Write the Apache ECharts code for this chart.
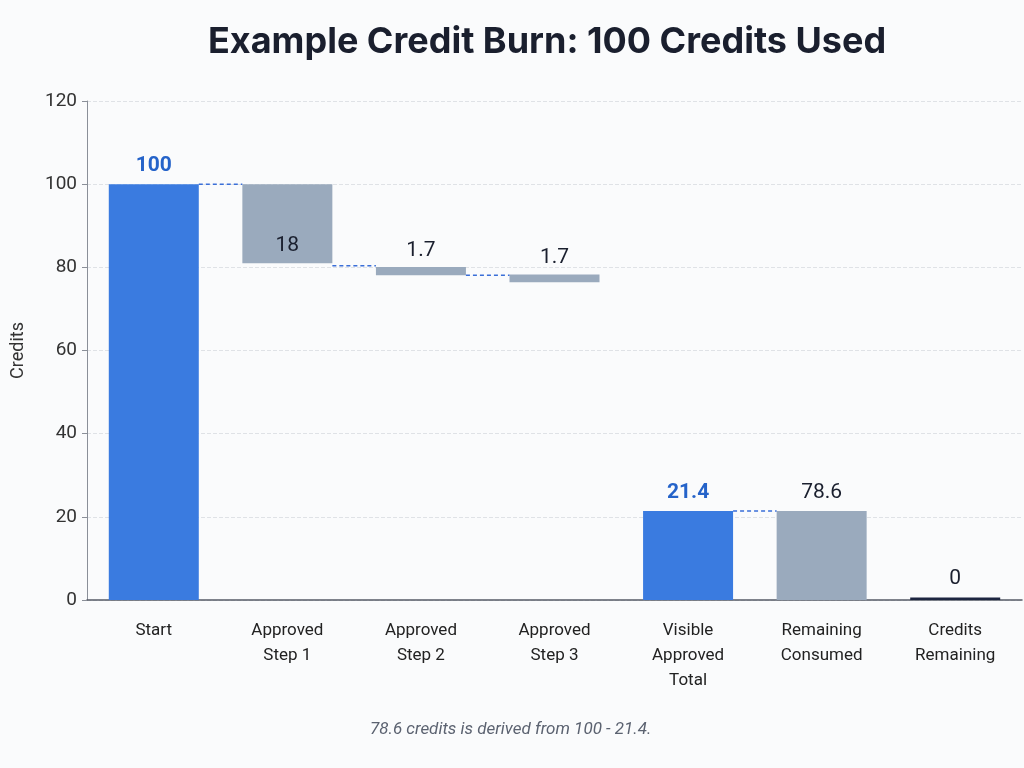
<!DOCTYPE html>
<html>
<head>
<meta charset="utf-8">
<script src="https://cdn.jsdelivr.net/npm/echarts@6/dist/echarts.min.js"></script>
<style>
html, body { margin: 0; padding: 0; background: #fafbfc; }
#main { width: 1024px; height: 768px; }
</style>
</head>
<body>
<div id="main"></div>
<script>
// waterfall data
var categories = ['Start', 'Approved\nStep 1', 'Approved\nStep 2', 'Approved\nStep 3',
    'Visible\nApproved\nTotal', 'Remaining\nConsumed', 'Credits\nRemaining'];
var baseValues = [0, 81, 78.1, 76.4, 0, 0, 0];
var barValues = [100, 19, 2, 1.9, 21.4, 21.4, 0.6];
var barLabels = ['100', '18', '1.7', '1.7', '21.4', '78.6', '0'];
var barKinds = ['total', 'step', 'step', 'step', 'total', 'step', 'end'];
var connectors = [[0, 100], [1, 80.4], [2, 78.1], [4, 21.4]];
var yTicks = [0, 20, 40, 60, 80, 100, 120];

var BAR_W = 90;
var colors = { total: '#3a7be0', step: '#9aaabd', end: '#1c2540' };

var myChart = echarts.init(document.getElementById('main'));

var barData = barValues.map(function (v, i) {
    var kind = barKinds[i];
    var lab = {
        show: true,
        formatter: barLabels[i],
        position: 'top',
        distance: 8,
        fontSize: 21,
        fontFamily: 'Roboto',
        color: kind === 'total' ? '#2563c9' : '#1a1f2e',
        fontWeight: kind === 'total' ? 'bold' : 'normal'
    };
    if (i === 1) {
        lab.position = 'inside';
        lab.offset = [0, 22];
    }
    if (i === 2 || i === 3) {
        lab.distance = 6;
    }
    return { value: v, itemStyle: { color: colors[kind] }, label: lab };
});

var option = {
    backgroundColor: '#fafbfc',
    title: {
        text: 'Example Credit Burn: 100 Credits Used',
        left: 203,
        top: 19,
        textStyle: {
            color: '#1a1f2e',
            fontSize: 36,
            fontWeight: 'bold',
            fontFamily: 'Inter'
        }
    },
    graphic: [{
        type: 'text',
        left: 370,
        top: 721,
        style: {
            text: '78.6 credits is derived from 100 - 21.4.',
            fontSize: 17,
            fontStyle: 'italic',
            fontFamily: 'Roboto',
            fill: '#5b6270'
        }
    }],
    grid: {
        left: 87,
        right: 2,
        top: 101,
        bottom: 168
    },
    xAxis: {
        type: 'category',
        data: categories,
        axisLine: { lineStyle: { color: '#555b66', width: 1.5 } },
        axisTick: { show: false },
        axisLabel: {
            color: '#222',
            fontSize: 17,
            fontFamily: 'Roboto',
            lineHeight: 25,
            margin: 18,
            interval: 0
        }
    },
    yAxis: {
        type: 'value',
        min: yTicks[0],
        max: yTicks[yTicks.length - 1],
        interval: 20,
        name: 'Credits',
        nameLocation: 'middle',
        nameGap: 60,
        nameTextStyle: { color: '#333', fontSize: 18, fontFamily: 'Roboto' },
        axisLine: { show: true, lineStyle: { color: '#8a8f98' } },
        axisTick: { show: true, length: 5, lineStyle: { color: '#8a8f98' } },
        axisLabel: { color: '#333', fontSize: 19, fontFamily: 'Roboto', margin: 10 },
        splitLine: { lineStyle: { color: '#dfe2e6', type: 'dashed' } }
    },
    series: [
        {
            type: 'bar',
            stack: 'wf',
            barWidth: BAR_W,
            silent: true,
            itemStyle: { color: 'transparent' },
            data: baseValues
        },
        {
            type: 'bar',
            stack: 'wf',
            barWidth: BAR_W,
            data: barData
        },
        {
            type: 'custom',
            data: connectors,
            z: 3,
            renderItem: function (params, api) {
                var ci = api.value(0);
                var v = api.value(1);
                var p1 = api.coord([ci, v]);
                var p2 = api.coord([ci + 1, v]);
                return {
                    type: 'line',
                    shape: { x1: p1[0] + BAR_W / 2, y1: p1[1], x2: p2[0] - BAR_W / 2, y2: p2[1] },
                    style: { stroke: '#3a6fd8', lineWidth: 1.5, lineDash: [4, 3] }
                };
            }
        }
    ]
};
myChart.setOption(option);
</script>
</body>
</html>
